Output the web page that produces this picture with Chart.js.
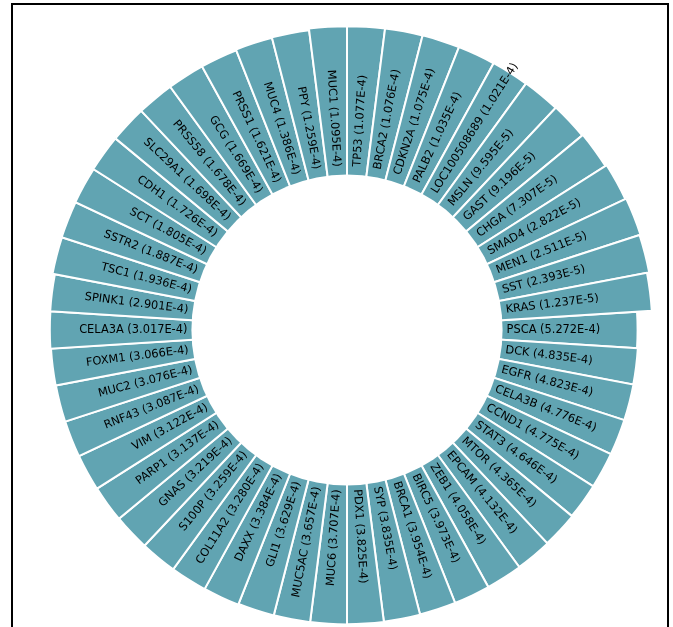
<!DOCTYPE html>
<html>
<head>
<meta charset="utf-8">
<script src="https://cdn.jsdelivr.net/npm/chart.js@4/dist/chart.umd.min.js"></script>
<style>
  html, body { margin: 0; padding: 0; background: #ffffff; overflow: hidden; width: 673px; height: 627px; }
  #frame { position: absolute; left: 11px; top: 3px; width: 654px; height: 720px; border: 2px solid #000; box-sizing: content-box; }
  #wrap { position: absolute; left: 27px; top: 10px; width: 640px; height: 640px; }
</style>
</head>
<body>
<div id="frame"></div>
<div id="wrap"><canvas id="c" width="640" height="640"></canvas></div>
<script>
// Categories, clockwise starting at 3 o'clock
const genes = ["PSCA","DCK","EGFR","CELA3B","CCND1","STAT3","MTOR","EPCAM","ZEB1","BIRC5",
  "BRCA1","SYP","PDX1","MUC6","MUC5AC","GLI1","DAXX","COL11A2","S100P","GNAS",
  "PARP1","VIM","RNF43","MUC2","FOXM1","CELA3A","SPINK1","TSC1","SSTR2","SCT",
  "CDH1","SLC29A1","PRSS58","GCG","PRSS1","MUC4","PPY","MUC1","TP53","BRCA2",
  "CDKN2A","PALB2","LOC100508689","MSLN","GAST","CHGA","SMAD4","MEN1","SST","KRAS"];

// Values printed in the labels
const values = [5.272e-4,4.835e-4,4.823e-4,4.776e-4,4.775e-4,4.646e-4,4.365e-4,4.132e-4,4.058e-4,3.973e-4,
  3.954e-4,3.835e-4,3.825e-4,3.707e-4,3.657e-4,3.629e-4,3.384e-4,3.280e-4,3.259e-4,3.219e-4,
  3.137e-4,3.122e-4,3.087e-4,3.076e-4,3.066e-4,3.017e-4,2.901e-4,1.936e-4,1.887e-4,1.805e-4,
  1.726e-4,1.698e-4,1.678e-4,1.669e-4,1.621e-4,1.386e-4,1.259e-4,1.095e-4,1.077e-4,1.076e-4,
  1.075e-4,1.035e-4,1.021e-4,9.595e-5,9.196e-5,7.307e-5,2.822e-5,2.511e-5,2.393e-5,1.237e-5];

// Bar heights (radial length of each bar)
const barHeights = [135,135.8,136,136,136,136.2,136.8,137.4,137.7,137.9,
  138,138.4,138.6,138.8,138.9,139,139.8,140.1,140.2,140.3,
  140.5,140.6,140.7,140.8,141,141.6,141.8,144.2,144.4,144.6,
  144.9,145,145,145.1,145.2,146,146.6,148.2,148.2,148.4,
  148.6,148.8,149,149.2,149.6,150.5,152,153,152,149.8];

const labels = genes.map((g, i) => g + " (" + values[i].toExponential(3).toUpperCase() + ")");

const HOLE = 155.6;      // radial units kept empty in the middle
const OUTER = 164.4;     // radial units left beyond zero to the edge of the scale
const BAR_COLOR = "#61a4b2";

const ringPlugin = {
  id: "ring",
  afterDatasetsDraw(chart) {
    const ctx = chart.ctx;
    const sc = chart.scales.r;
    const cx = sc.xCenter, cy = sc.yCenter;
    const rIn = sc.getDistanceFromCenterForValue(0);
    ctx.save();
    ctx.beginPath();
    ctx.arc(cx, cy, rIn, 0, Math.PI * 2);
    ctx.fillStyle = "#ffffff";
    ctx.fill();
    const n = genes.length;
    const step = Math.PI * 2 / n;
    const a0 = sc.getIndexAngle(0) - Math.PI / 2;
    ctx.fillStyle = "#000000";
    ctx.font = "11.4px 'DejaVu Sans'";
    ctx.textBaseline = "middle";
    for (let i = 0; i < n; i++) {
      let a = a0 + (i + 0.5) * step;
      a = Math.atan2(Math.sin(a), Math.cos(a));
      const rText = rIn + 4 + 4 * Math.max(0, -Math.sin(a));
      ctx.save();
      ctx.translate(cx, cy);
      if (Math.cos(a) >= 0) {
        ctx.rotate(a);
        ctx.textAlign = "left";
        ctx.fillText(labels[i], rText, 0);
      } else {
        ctx.rotate(a + Math.PI);
        ctx.textAlign = "right";
        ctx.fillText(labels[i], -rText, 0);
      }
      ctx.restore();
    }
    ctx.restore();
  }
};

new Chart(document.getElementById("c"), {
  type: "polarArea",
  data: {
    labels: genes,
    datasets: [{
      data: barHeights,
      backgroundColor: BAR_COLOR,
      borderColor: "#ffffff",
      borderWidth: 2
    }]
  },
  options: {
    responsive: false,
    animation: false,
    devicePixelRatio: 1,
    layout: { padding: 0 },
    plugins: { legend: { display: false }, tooltip: { enabled: false } },
    scales: {
      r: {
        min: -HOLE,
        max: OUTER,
        startAngle: 86.4,
        ticks: { display: false },
        grid: { display: false },
        angleLines: { display: false },
        pointLabels: { display: false }
      }
    }
  },
  plugins: [ringPlugin]
});
</script>
</body>
</html>
